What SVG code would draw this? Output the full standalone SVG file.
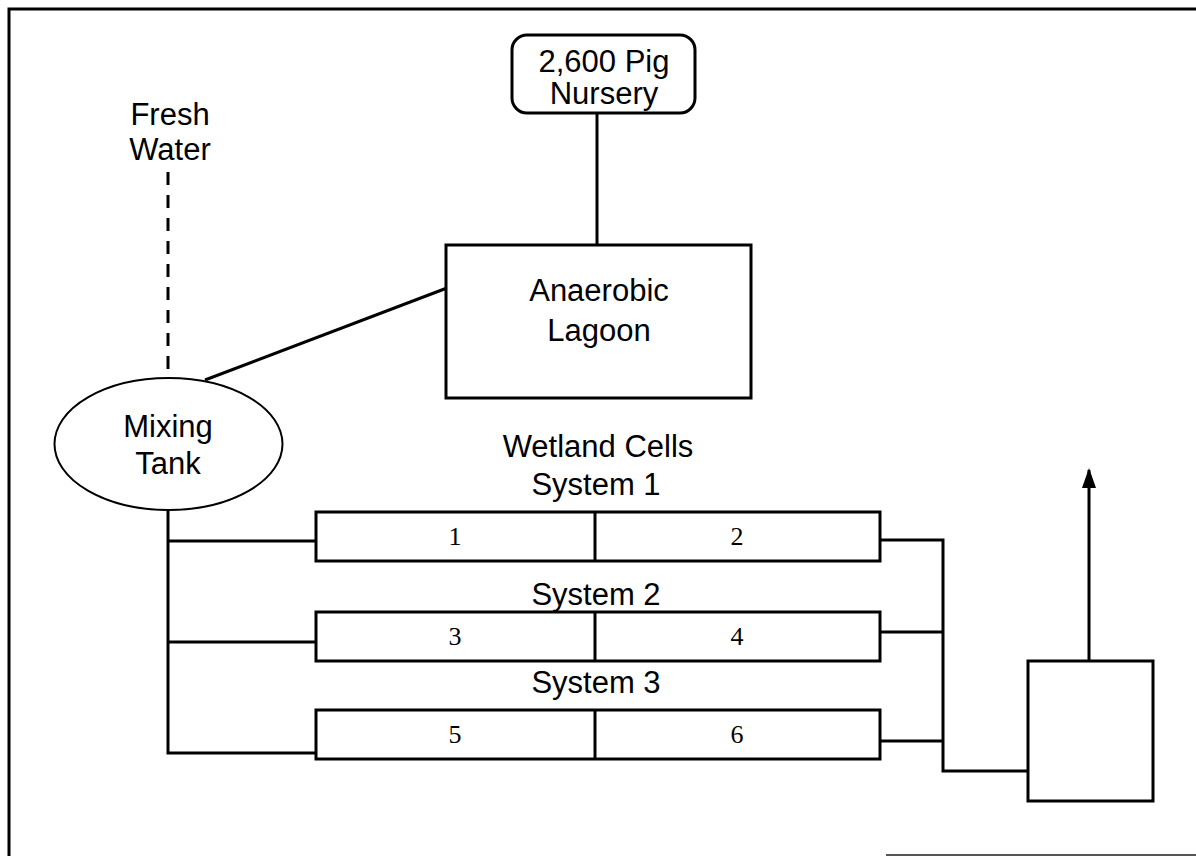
<svg xmlns="http://www.w3.org/2000/svg" width="1196" height="856" viewBox="0 0 1196 856">
<defs>
<style>
.ln{stroke:#000;stroke-width:3;fill:none}
.bx{stroke:#000;stroke-width:3;fill:#fff}
.t{font-family:"Liberation Sans",Arial,sans-serif;font-size:31px;text-anchor:middle;fill:#000}
.n{font-family:"Liberation Serif","Times New Roman",serif;font-size:26px;text-anchor:middle;fill:#000}
</style>
<marker id="ah" markerWidth="20" markerHeight="14" refX="18" refY="7" orient="auto" markerUnits="userSpaceOnUse" viewBox="0 0 20 14">
<path d="M0,0 L20,7 L0,14 Z" fill="#000"/>
</marker>
</defs>
<rect width="1196" height="856" fill="#fff"/>
<g id="frame">
<path class="ln" d="M9,856 L9,9 L1196,9"/>
<path d="M886,855 L1196,855" stroke="#555" stroke-width="2" fill="none"/>
</g>
<g id="connectors">
<line class="ln" x1="597" y1="113" x2="597" y2="245"/>
<line class="ln" x1="447" y1="288" x2="205" y2="380"/>
<line class="ln" x1="168" y1="172" x2="168" y2="372" stroke-dasharray="13,10"/>
<path class="ln" d="M168,511 L168,753 L316,753"/>
<line class="ln" x1="168" y1="541" x2="316" y2="541"/>
<line class="ln" x1="168" y1="642" x2="316" y2="642"/>
<path class="ln" d="M880,540 L943,540 L943,771 L1028,771"/>
<line class="ln" x1="880" y1="632" x2="943" y2="632"/>
<line class="ln" x1="880" y1="741" x2="943" y2="741"/>
<line class="ln" x1="1089" y1="661" x2="1089" y2="470" marker-end="url(#ah)"/>
</g>
<g id="fresh-water">
<text class="t" x="170" y="125">Fresh</text>
<text class="t" x="170" y="160">Water</text>
</g>
<g id="nursery">
<rect class="bx" x="512" y="35" width="183" height="78" rx="15"/>
<text class="t" x="604" y="72">2,600 Pig</text>
<text class="t" x="604" y="104">Nursery</text>
</g>
<g id="lagoon">
<rect class="bx" x="446" y="245" width="305" height="153"/>
<text class="t" x="599" y="301">Anaerobic</text>
<text class="t" x="599" y="341">Lagoon</text>
</g>
<g id="mixing-tank">
<ellipse cx="168.5" cy="444" rx="114" ry="66" fill="#fff" stroke="#000" stroke-width="2"/>
<text class="t" x="168" y="437">Mixing</text>
<text class="t" x="168" y="474">Tank</text>
</g>
<g id="wetland-labels">
<text class="t" x="598" y="457">Wetland Cells</text>
<text class="t" x="596" y="495">System 1</text>
<text class="t" x="596" y="605">System 2</text>
<text class="t" x="596" y="693">System 3</text>
</g>
<g id="system1">
<rect class="bx" x="316" y="512" width="564" height="49"/>
<line class="ln" x1="595" y1="512" x2="595" y2="561"/>
<text class="n" x="455" y="545">1</text>
<text class="n" x="737" y="545">2</text>
</g>
<g id="system2">
<rect class="bx" x="316" y="612" width="564" height="49"/>
<line class="ln" x1="595" y1="612" x2="595" y2="661"/>
<text class="n" x="455" y="645">3</text>
<text class="n" x="737" y="645">4</text>
</g>
<g id="system3">
<rect class="bx" x="316" y="710" width="564" height="49"/>
<line class="ln" x1="595" y1="710" x2="595" y2="759"/>
<text class="n" x="455" y="743">5</text>
<text class="n" x="737" y="743">6</text>
</g>
<g id="outlet-box">
<rect class="bx" x="1028" y="661" width="125" height="140"/>
</g>
</svg>
